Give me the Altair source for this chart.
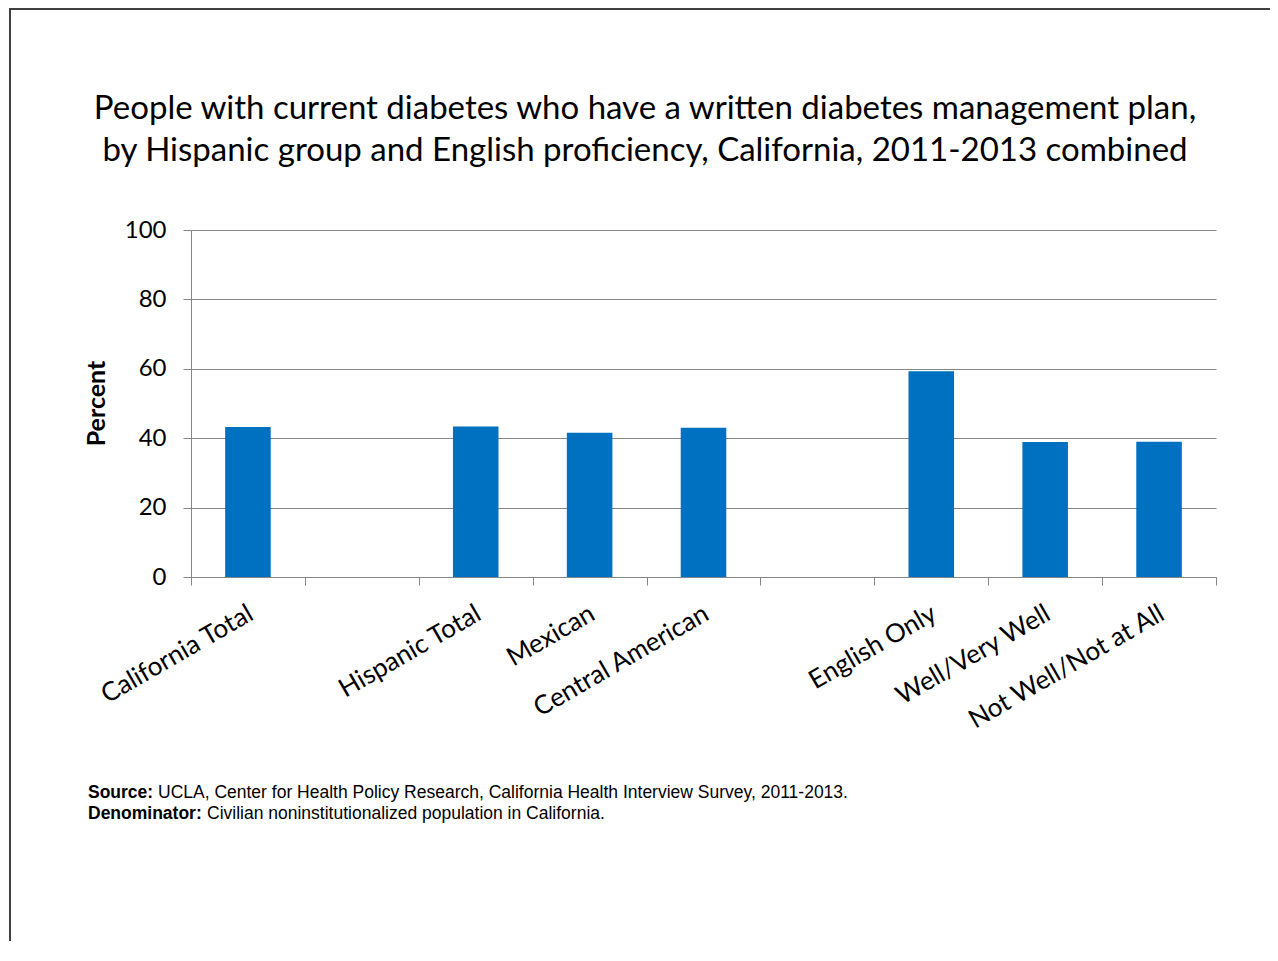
import altair as alt
import pandas as pd

# ---- data ----
categories = ["California Total", " ", "Hispanic Total", "Mexican", "Central American",
              "  ", "English Only", "Well/Very Well", "Not Well/Not at All"]
values = [43.2, None, 43.4, 41.6, 43.0, None, 59.3, 38.9, 39.0]
y_ticks = [0, 20, 40, 60, 80, 100]

title_lines = [
    "People with current diabetes who have a written diabetes management plan,",
    "by Hispanic group and English proficiency, California, 2011-2013 combined",
]
y_title = "Percent"
source_label = "Source:"
source_text = "UCLA, Center for Health Policy Research, California Health Interview Survey, 2011-2013."
denom_label = "Denominator:"
denom_text = "Civilian noninstitutionalized population in California."

df = pd.DataFrame({"category": categories, "percent": values})
bars_df = df.dropna()
one = pd.DataFrame({"k": [0]})

W, H = 1025, 347
GRAY = "#868686"

bars = alt.Chart(bars_df).mark_bar(color="#0070C0", width=alt.RelativeBandSize(0.4)).encode(
    x=alt.X(
        "category:N",
        sort=categories,
        scale=alt.Scale(domain=categories, paddingInner=0, paddingOuter=0),
        axis=alt.Axis(
            title=None,
            labelAngle=330,
            labelFont="Lato",
            labelFontSize=26,
            labelColor="#000000",
            labelOverlap=False,
            labelLimit=0,
            labelPadding=15,
            labelOffset=-4,
            tickBand="extent",
            tickSize=8,
            tickColor=GRAY,
            domainColor=GRAY,
            grid=False,
        ),
    ),
    y=alt.Y(
        "percent:Q",
        scale=alt.Scale(domain=[0, 100], nice=False),
        axis=alt.Axis(
            values=y_ticks,
            title=y_title,
            titleFont="Lato",
            titleFontSize=25,
            titleFontWeight="bold",
            titleColor="#000000",
            titleAngle=270,
            titleAlign="center",
            titleBaseline="middle",
            titleX=-95,
            titleY=173,
            labelFont="Lato",
            labelFontSize=24,
            labelColor="#000000",
            labelPadding=17,
            tickSize=8,
            tickColor=GRAY,
            domainColor=GRAY,
            gridColor=GRAY,
            grid=True,
        ),
    ),
)

title = alt.Chart(one).mark_text(
    font="Lato", fontSize=33, align="center", baseline="alphabetic", lineHeight=42, color="#000000"
).encode(x=alt.value(454), y=alt.value(-111), text=alt.value(title_lines))

foot_style = dict(font="Liberation Sans", fontSize=17.5, align="left", baseline="alphabetic", color="#000000")
src_b = alt.Chart(one).mark_text(fontWeight="bold", **foot_style).encode(
    x=alt.value(-103), y=alt.value(568), text=alt.value(source_label))
src_t = alt.Chart(one).mark_text(**foot_style).encode(
    x=alt.value(-33), y=alt.value(568), text=alt.value(source_text))
den_b = alt.Chart(one).mark_text(fontWeight="bold", **foot_style).encode(
    x=alt.value(-103), y=alt.value(589), text=alt.value(denom_label))
den_t = alt.Chart(one).mark_text(**foot_style).encode(
    x=alt.value(16), y=alt.value(589), text=alt.value(denom_text))

frame_top = alt.Chart(one).mark_rule(color="#404040", strokeWidth=2).encode(
    x=alt.value(-182), x2=alt.value(1100), y=alt.value(-221))
frame_left = alt.Chart(one).mark_rule(color="#404040", strokeWidth=2).encode(
    x=alt.value(-181), y=alt.value(-222), y2=alt.value(800))

chart = alt.layer(frame_top, frame_left, bars, title, src_b, src_t, den_b, den_t).properties(
    width=W,
    height=H,
    autosize=alt.AutoSizeParams(type="none"),
    padding={"left": 183, "top": 222, "right": 54, "bottom": 364},
    background="#ffffff",
).configure_view(stroke=None)

chart.save("out.html", embed_options={"renderer": "svg", "actions": False})
